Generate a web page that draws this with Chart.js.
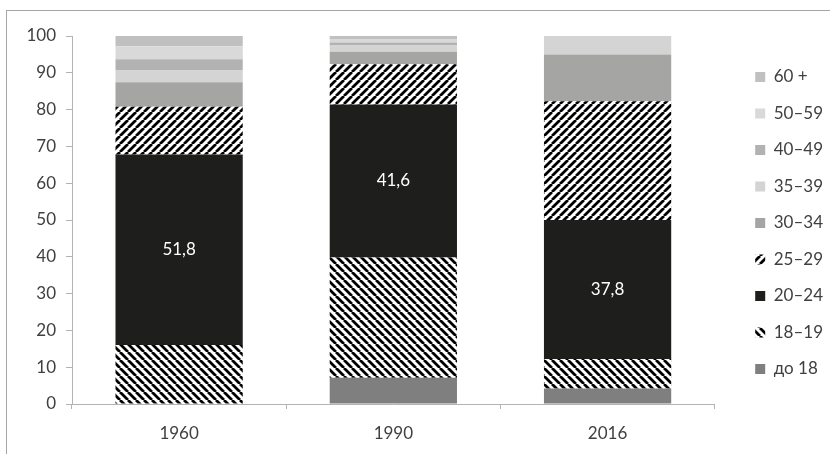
<!DOCTYPE html>
<html>
<head>
<meta charset="utf-8">
<script src="https://cdn.jsdelivr.net/npm/chart.js@4"></script>
<style>
  html, body { margin: 0; padding: 0; background: #fff; }
  #wrap { position: relative; width: 830px; height: 454px; overflow: hidden; }
  #frame { position: absolute; left: 6px; top: 10px; width: 840px; height: 460px; border: 1px solid #a6a6a6; }
  canvas { position: absolute; left: 0; top: 0; }
</style>
</head>
<body>
<div id="wrap">
  <div id="frame"></div>
  <canvas id="chart" width="830" height="454"></canvas>
</div>
<script>
const categories = ['1960', '1990', '2016'];
const seriesNames = ['до 18', '18–19', '20–24', '25–29', '30–34', '35–39', '40–49', '50–59', '60 +'];

const under18 = [0, 7.1, 4.2];
const age18_19 = [16.0, 32.7, 8.0];
const age20_24 = [51.8, 41.6, 37.8];
const age25_29 = [13.0, 10.9, 32.3];
const age30_34 = [6.6, 3.4, 12.7];
const age35_39 = [3.2, 1.7, 5.0];
const age40_49 = [3.1, 0.8, 0];
const age50_59 = [3.5, 1.0, 0];
const age60plus = [2.8, 0.8, 0];

const yTicks = [0, 10, 20, 30, 40, 50, 60, 70, 80, 90, 100];

const TEXT = '#404040';
const AXIS = '#b3b3b3';

Chart.defaults.font.family = 'Lato, "Open Sans", sans-serif';
Chart.defaults.font.size = 17;
Chart.defaults.color = TEXT;

// black/white diagonal hatching, dir '/' or '\'
function stripes(dir) {
  const s = 8;
  const c = document.createElement('canvas');
  c.width = s;
  c.height = s;
  const g = c.getContext('2d');
  g.fillStyle = '#fff';
  g.fillRect(0, 0, s, s);
  g.strokeStyle = '#000';
  g.lineWidth = 2.8;
  g.beginPath();
  for (let k = -1; k <= 1; k++) {
    if (dir === '/') {
      g.moveTo(k * s, s);
      g.lineTo(k * s + s, 0);
    } else {
      g.moveTo(k * s, 0);
      g.lineTo(k * s + s, s);
    }
  }
  g.stroke();
  return g.createPattern(c, 'repeat');
}

const fills = [
  '#7f7f7f',
  stripes('\\'),
  '#1e1e1c',
  stripes('/'),
  '#a5a5a3',
  '#d4d4d4',
  '#b2b2b2',
  '#d9d9d9',
  '#c0c0c0',
];
const seriesValues = [under18, age18_19, age20_24, age25_29, age30_34, age35_39, age40_49, age50_59, age60plus];

const LABELLED = 2; // 20–24 carries the value labels

const valueLabels = {
  id: 'valueLabels',
  afterDatasetsDraw(chart) {
    const ctx = chart.ctx;
    const meta = chart.getDatasetMeta(LABELLED);
    ctx.save();
    ctx.fillStyle = '#fff';
    ctx.font = '17px ' + Chart.defaults.font.family;
    ctx.textAlign = 'center';
    ctx.textBaseline = 'middle';
    meta.data.forEach((bar, i) => {
      const v = seriesValues[LABELLED][i];
      ctx.fillText(v.toFixed(1).replace('.', ','), bar.x, (bar.y + bar.base) / 2);
    });
    ctx.restore();
  },
};

// nudge the legend to where the original sits
const legendShift = {
  id: 'legendShift',
  afterLayout(chart) {
    const lg = chart.legend;
    lg.left += 21;
    lg.right += 21;
    lg.top -= 22;
    lg.bottom -= 22;
  },
};

new Chart(document.getElementById('chart'), {
  type: 'bar',
  data: {
    labels: categories,
    datasets: seriesNames.map((name, i) => ({
      label: name,
      data: seriesValues[i],
      backgroundColor: fills[i],
      borderWidth: 0,
      barPercentage: 1,
      categoryPercentage: 0.594,
    })),
  },
  options: {
    responsive: false,
    animation: false,
    layout: { padding: { top: 36, right: 18, bottom: 0, left: 0 } },
    scales: {
      x: {
        stacked: true,
        grid: { display: true, drawOnChartArea: false, offset: true, color: AXIS, tickLength: 5 },
        border: { color: AXIS },
        ticks: { padding: 14, color: TEXT },
        afterFit(scale) { scale.height = 50; },
      },
      y: {
        stacked: true,
        min: 0,
        max: 100,
        afterBuildTicks(scale) { scale.ticks = yTicks.map((v) => ({ value: v })); },
        grid: { display: true, drawOnChartArea: false, color: AXIS, tickLength: 6 },
        border: { color: AXIS },
        ticks: { padding: 10, color: TEXT },
        afterFit(scale) { scale.width = 72; },
      },
    },
    plugins: {
      tooltip: { enabled: false },
      legend: {
        position: 'right',
        reverse: true,
        labels: { boxWidth: 10, boxHeight: 10, padding: 19.5, color: TEXT },
      },
    },
  },
  plugins: [valueLabels, legendShift],
});
</script>
</body>
</html>
